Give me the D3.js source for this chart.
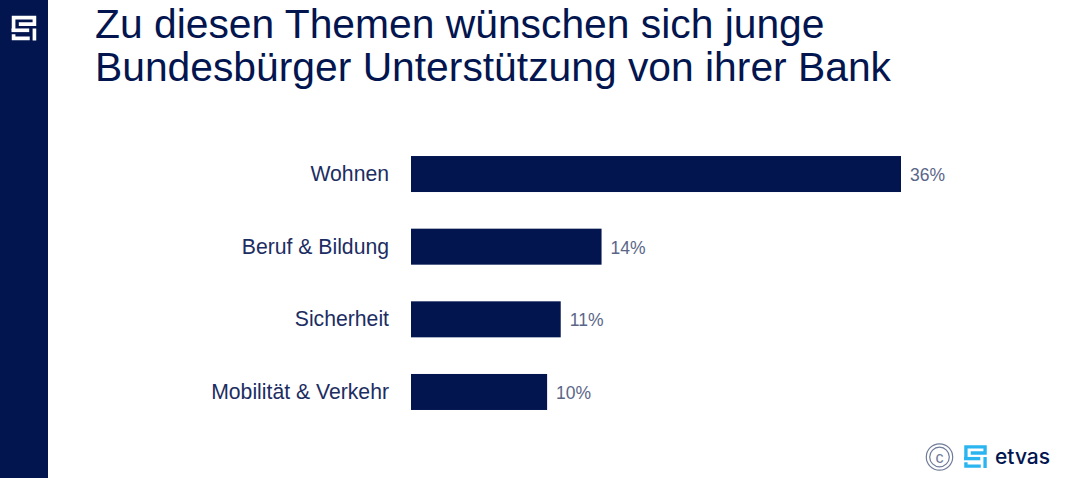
<!DOCTYPE html>
<html>
<head>
<meta charset="utf-8">
<script src="https://cdn.jsdelivr.net/npm/d3@7"></script>
<style>
  html, body { margin: 0; padding: 0; background: #fff; }
  svg { display: block; font-family: "Liberation Sans", Arial, sans-serif; }
</style>
</head>
<body>
<div id="chart"></div>
<script>
const categories = ['Wohnen', 'Beruf & Bildung', 'Sicherheit', 'Mobilität & Verkehr'];
const values = [36, 14, 11, 10];
const title_lines = ['Zu diesen Themen wünschen sich junge', 'Bundesbürger Unterstützung von ihrer Bank'];

const navy = '#02154f';
const width = 1080, height = 478;

const svg = d3.select('#chart').append('svg')
  .attr('width', width)
  .attr('height', height);

// side band
svg.append('rect')
  .attr('width', 48)
  .attr('height', height)
  .attr('fill', navy);

// logo mark, used twice (24 unit box)
function draw_mark(g, color, size) {
  const strokes = [
    'M2 14 V2 H22 V8.3 H7',
    'M0 14.2 H17',
    'M22 12.5 V24',
    'M2 18 V22 H17.5'
  ];
  g.attr('transform', g.attr('transform') + ` scale(${size / 24})`)
    .selectAll('path')
    .data(strokes)
    .join('path')
    .attr('d', d => d)
    .attr('fill', 'none')
    .attr('stroke', color)
    .attr('stroke-width', 3.5);
}
draw_mark(svg.append('g').attr('transform', 'translate(11.5, 15.5)'), '#ffffff', 25);

// title
svg.append('g')
  .selectAll('text')
  .data(title_lines)
  .join('text')
  .attr('x', 95)
  .attr('y', (d, i) => 38 + i * 43)
  .attr('font-size', 40.8)
  .attr('fill', navy)
  .text(d => d);

// chart
const x = d3.scaleLinear().domain([0, 36]).range([411, 901]);
const y = d3.scaleBand().domain(categories).range([137.7, 428.3]).paddingInner(0.5).paddingOuter(0.25);
const bar_h = 36;
const bar_y = d => y(d) + y.bandwidth() / 2 - bar_h / 2;

const rows = categories.map((c, i) => ({ category: c, value: values[i] }));

svg.append('g')
  .selectAll('rect')
  .data(rows)
  .join('rect')
  .attr('x', x(0))
  .attr('y', d => bar_y(d.category))
  .attr('width', d => x(d.value) - x(0))
  .attr('height', bar_h)
  .attr('fill', navy);

svg.append('g')
  .selectAll('text')
  .data(rows)
  .join('text')
  .attr('x', 389)
  .attr('y', d => bar_y(d.category) + 25)
  .attr('text-anchor', 'end')
  .attr('font-size', 21.2)
  .attr('fill', '#1c2d62')
  .text(d => d.category);

svg.append('g')
  .selectAll('text')
  .data(rows)
  .join('text')
  .attr('x', d => x(d.value) + 9)
  .attr('y', d => bar_y(d.category) + 25)
  .attr('font-size', 17.5)
  .attr('fill', '#5a6688')
  .text(d => d.value + '%');

// copyright + brand
const cx = 939.5, cy = 457;
svg.append('circle').attr('cx', cx).attr('cy', cy).attr('r', 13.2)
  .attr('fill', 'none').attr('stroke', '#6f7b9a').attr('stroke-width', 1.2);
svg.append('circle').attr('cx', cx).attr('cy', cy).attr('r', 9.8)
  .attr('fill', 'none').attr('stroke', '#6f7b9a').attr('stroke-width', 1.2);
svg.append('text').attr('x', cx).attr('y', cy + 5.5).attr('text-anchor', 'middle')
  .attr('font-size', 16).attr('fill', '#6f7b9a').text('c');

draw_mark(svg.append('g').attr('transform', 'translate(964, 445)'), '#2bb5f0', 23);
svg.append('text').attr('x', 995).attr('y', 464)
  .attr('font-family', 'Inter, sans-serif')
  .attr('font-size', 21).attr('font-weight', 500).attr('fill', navy)
  .text('etvas');
</script>
</body>
</html>
